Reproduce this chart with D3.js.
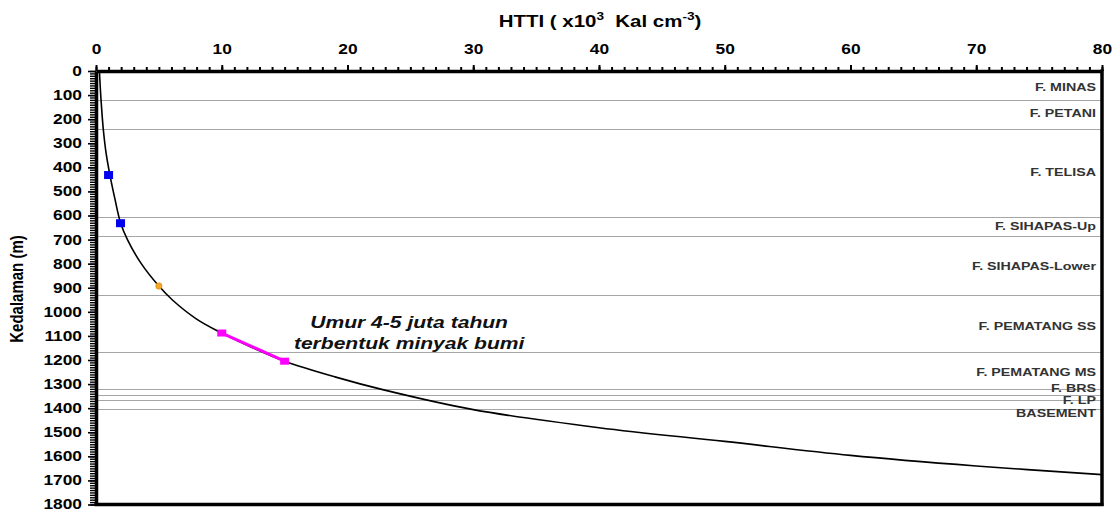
<!DOCTYPE html>
<html><head><meta charset="utf-8">
<script src="https://cdn.jsdelivr.net/npm/d3@7"></script>
<style>
body{margin:0;background:#fff}
svg{display:block}
text{font-family:"Liberation Sans",Arial,sans-serif;font-weight:bold}
</style>
</head><body>
<svg id="c" width="1115" height="512"></svg>
<script>
// ---- data ----
const xTickValues = [0,10,20,30,40,50,60,70,80];
const yTickValues = [0,100,200,300,400,500,600,700,800,900,1000,1100,1200,1300,1400,1500,1600,1700,1800];

// HTTI curve (x10^3 Kal cm^-3) vs depth (m)
const curveHTTI  = [0.27,0.4,0.58,0.8,1.1,1.5,1.95,2.5,3.6,5.0,6.1,8.0,10.0,12.5,15.0,19,22.8,30,40,50,60,70,80];
const curveDepth = [0,120,242,340,430,530,630,700,800,893,952,1030,1088,1150,1205,1270,1323,1406,1481,1538,1596,1640,1676];

// blue sample points
const blueHTTI  = [1.0,1.95];
const blueDepth = [432,632];
// orange point
const orangeHTTI  = [5.0];
const orangeDepth = [893];
// oil window (magenta)
const oilHTTI  = [10,15];
const oilDepth = [1088,1205];

// formations
const formationNames = ["F. MINAS","F. PETANI","F. TELISA","F. SIHAPAS-Up","F. SIHAPAS-Lower","F. PEMATANG SS","F. PEMATANG MS","F. BRS","F. LP","BASEMENT"];
const formationLabelDepth = [68,176,418,644,809,1060,1250,1315,1366,1418];
const formationBase = [120,242,607,687,930,1165,1320,1347,1365,1405];

const annotationLines = ["Umur 4-5 juta tahun","terbentuk minyak bumi"];

// ---- chart ----
const SX = 1.24; // horizontal glyph stretch of the original
const svg = d3.select("#c");
const x = d3.scaleLinear().domain([0,80]).range([96,1102]);
const y = d3.scaleLinear().domain([0,1800]).range([71,504.5]);

// formation boundary lines
svg.append("g").selectAll("line").data(formationBase).join("line")
  .attr("x1",x(0)).attr("x2",x(80))
  .attr("y1",d=>Math.round(y(d))+0.5).attr("y2",d=>Math.round(y(d))+0.5)
  .attr("stroke","#a6a6a6").attr("stroke-width",1.2);

// formation labels
svg.append("g").selectAll("text").data(formationNames).join("text")
  .attr("transform",(d,i)=>`translate(${x(80)-6},${y(formationLabelDepth[i])+4}) scale(${SX},1)`)
  .attr("text-anchor","end").style("font-size","11.5px").attr("fill","#333")
  .text(d=>d);

// curve
const pts = curveHTTI.map((v,i)=>[v,curveDepth[i]]);
svg.append("path").datum(pts)
  .attr("fill","none").attr("stroke","#000").attr("stroke-width",1.6)
  .attr("d",d3.line().x(d=>x(d[0])).y(d=>y(d[1])).curve(d3.curveCatmullRom.alpha(0.5)));

// oil window line
const oil = oilHTTI.map((v,i)=>[v,oilDepth[i]]);
svg.append("path").datum(oil)
  .attr("fill","none").attr("stroke","#ff00ff").attr("stroke-width",3)
  .attr("d",d3.line().x(d=>x(d[0])).y(d=>y(d[1])));
svg.append("g").selectAll("rect").data(oil).join("rect")
  .attr("x",d=>x(d[0])-4.5).attr("y",d=>y(d[1])-3.5).attr("width",9).attr("height",7)
  .attr("fill","#ff00ff");

// blue squares
svg.append("g").selectAll("rect").data(blueHTTI.map((v,i)=>[v,blueDepth[i]])).join("rect")
  .attr("x",d=>x(d[0])-4.5).attr("y",d=>y(d[1])-4).attr("width",9).attr("height",8)
  .attr("fill","#0000ee");

// orange point
svg.append("g").selectAll("circle").data(orangeHTTI.map((v,i)=>[v,orangeDepth[i]])).join("circle")
  .attr("cx",d=>x(d[0])).attr("cy",d=>y(d[1])).attr("r",3.2)
  .attr("fill","#f5a623").attr("stroke","#d08a10").attr("stroke-width",0.6);

// annotation
svg.append("g").selectAll("text").data(annotationLines).join("text")
  .attr("transform",(d,i)=>`translate(${x(24.9)},${y(1067)+i*21.5}) scale(${SX},1)`)
  .attr("text-anchor","middle").style("font-size","17px").style("font-style","italic").attr("fill","#111")
  .text(d=>d);

// top axis: minor ticks
svg.append("g").attr("transform",`translate(0,${y(0)})`)
  .call(d3.axisTop(x).tickValues(d3.range(0,81,1)).tickSize(4).tickFormat(""))
  .call(g=>g.select(".domain").remove())
  .call(g=>g.selectAll(".tick line").attr("stroke-width",2));
// top axis: major ticks + labels
const gTop = svg.append("g").attr("transform",`translate(0,${y(0)})`)
  .call(d3.axisTop(x).tickValues(xTickValues).tickSize(6).tickSizeOuter(0).tickPadding(11).tickFormat(d3.format("d")));
gTop.attr("font-family",null).attr("font-size",null);
gTop.select(".domain").attr("stroke-width",3.5);
gTop.selectAll(".tick line").attr("stroke-width",2);
gTop.selectAll(".tick text").attr("transform",`scale(${SX},1)`).style("font-size","14px").attr("fill","#000");

// left axis: minor ticks
svg.append("g").attr("transform",`translate(${x(0)},0)`)
  .call(d3.axisLeft(y).tickValues(d3.range(0,1801,10)).tickSize(6).tickFormat(""))
  .call(g=>g.select(".domain").remove())
  .call(g=>g.selectAll(".tick line").attr("stroke-width",1.4));
const gLeft = svg.append("g").attr("transform",`translate(${x(0)},0)`)
  .call(d3.axisLeft(y).tickValues(yTickValues).tickSize(8).tickSizeOuter(0).tickPadding(3).tickFormat(d3.format("d")));
gLeft.attr("font-family",null).attr("font-size",null);
gLeft.select(".domain").attr("stroke-width",3.5);
gLeft.selectAll(".tick line").attr("stroke-width",1.6);
gLeft.selectAll(".tick text").attr("x",-11.3).attr("transform",`scale(${SX},1)`).style("font-size","14px").attr("fill","#000");

// right & bottom frame
svg.append("line").attr("x1",x(80)).attr("x2",x(80)).attr("y1",y(0)-1.5).attr("y2",y(1800)+1.5)
  .attr("stroke","#000").attr("stroke-width",3.5);
svg.append("line").attr("x1",x(0)-1.5).attr("x2",x(80)+1.5).attr("y1",y(1800)).attr("y2",y(1800))
  .attr("stroke","#000").attr("stroke-width",3.5);

// axis titles
const title = svg.append("text")
  .attr("transform",`translate(600,27) scale(${SX},1)`)
  .attr("text-anchor","middle").style("font-size","16.5px").attr("fill","#000")
  .style("white-space","pre");
title.append("tspan").text("HTTI ( x10");
title.append("tspan").attr("dy",-7).style("font-size","11px").text("3");
title.append("tspan").attr("dy",7).text("  Kal cm");
title.append("tspan").attr("dy",-7).style("font-size","11px").text("-3");
title.append("tspan").attr("dy",7).text(")");

svg.append("text")
  .attr("transform",`translate(23,289) scale(${SX},1) rotate(-90)`)
  .attr("text-anchor","middle").style("font-size","15px").attr("fill","#000")
  .text("Kedalaman (m)");
</script>
</body></html>
